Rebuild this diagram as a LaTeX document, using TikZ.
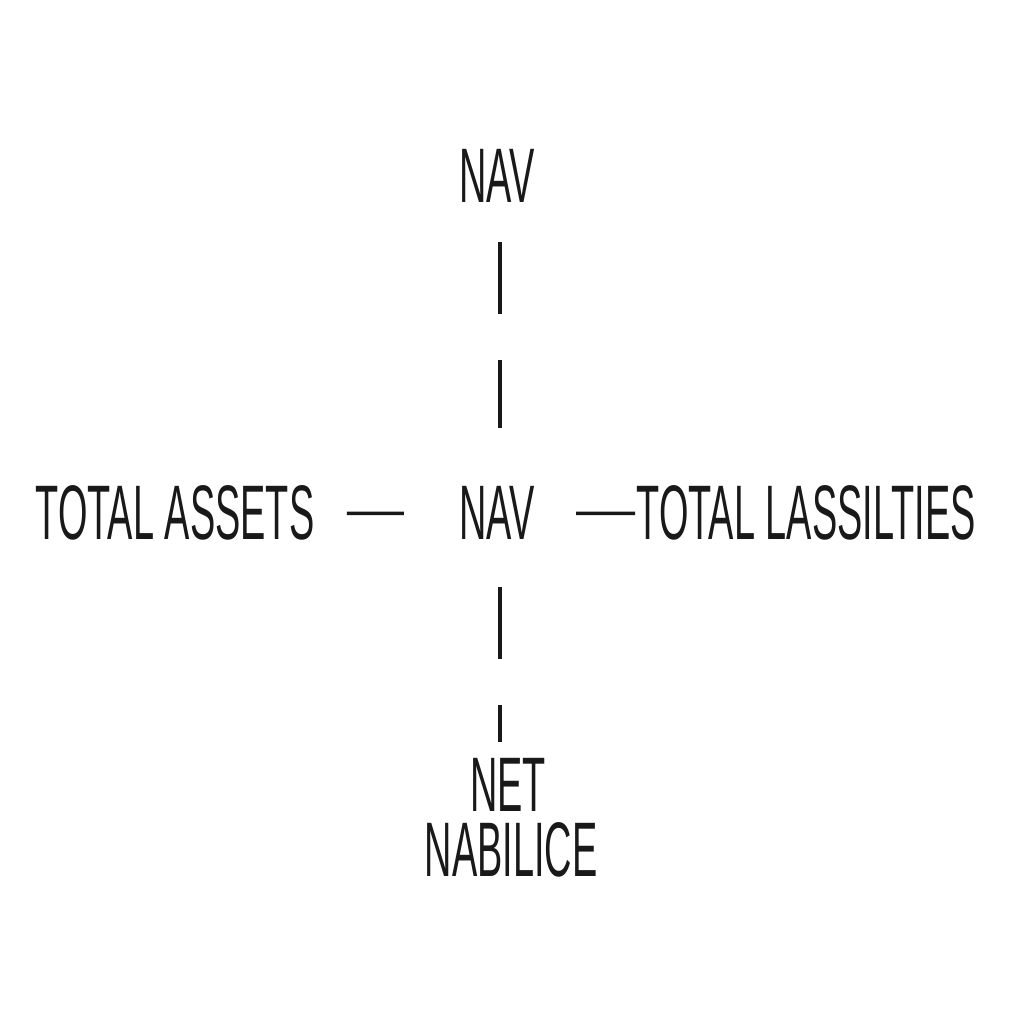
\documentclass[tikz,border=0pt]{standalone}
\usepackage{fontspec}
\newfontfamily\narrowfont{Liberation Sans}[FakeStretch=0.49]
\usetikzlibrary{calc}
\tikzset{
	every path/.style={line width=0.95pt},
	term/.style={
		inner sep=0pt,
		text=black!90,
		font=\narrowfont\fontsize{22}{26}\selectfont,
	},
	link/.style={
		draw=black!90,
		dash pattern=on 0.72cm off 0.46cm,
	},
	bar/.style={
		draw=black!90,
	},
}

\begin{document}
\begin{tikzpicture}
		\useasboundingbox (0,0) rectangle (10.24,10.24);

		\node[term,anchor=base] (top) at (4.97,8.21) {NAV};
		\node[term,anchor=base] (nav) at (4.97,4.84) {NAV};
		\node[term,anchor=base west] (assets) at (0.34,4.84) {TOTAL ASSETS};
		\node[term,anchor=base west] (liab) at (6.35,4.84) {TOTAL LASSILTIES};
		\node[term,anchor=base] (net) at (5.08,2.12) {NET};
		\node[term,anchor=base] (nabilice) at (5.11,1.47) {NABILICE};

		\draw[link,shorten <=0.37cm,shorten >=0.57cm] ([xshift=0.3mm]top.south) -- ([xshift=0.3mm]nav.north);
		\draw[link,shorten <=0.45cm,shorten >=0.15cm] ([xshift=0.3mm]nav.south) -- ([xshift=0.3mm]nav.south |- net.north);
		\draw[bar,shorten <=0.31cm,shorten >=0.54cm] (assets.east) -- (nav.west);
		\draw[bar,shorten <=0.40cm] (nav.east) -- (liab.west);

	\end{tikzpicture}
\end{document}
